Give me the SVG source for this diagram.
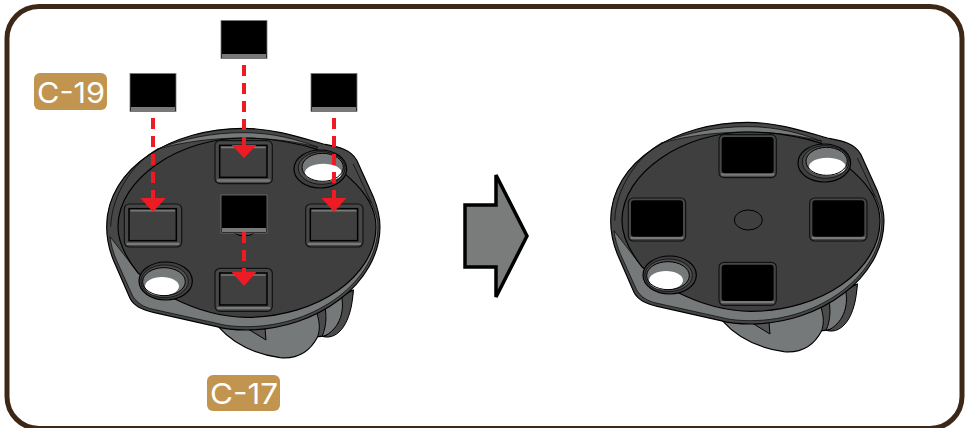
<svg xmlns="http://www.w3.org/2000/svg" xmlns:xlink="http://www.w3.org/1999/xlink" width="968" height="428" viewBox="0 0 968 428">
<style>
.badge{fill:#c1954f}
.lbl{font-family:"Inter","Liberation Sans",sans-serif;font-weight:400;font-size:29px;fill:#fff}
.blk{fill:#000;stroke:#777;stroke-width:.8}
.strip{fill:#777a79}
.flow{stroke:#ed1c24;stroke-width:4;stroke-dasharray:11 7;fill:none}
.head{fill:#ed1c24}
.ol{stroke:#000;stroke-width:3.5;stroke-linejoin:round}
.pad{fill:#474747;stroke:#111;stroke-width:3.5}
.padi{fill:#404040;stroke:#000;stroke-width:4.5}
</style>
<defs>
<g id="body">
<path class="ol" fill="#76797a" d="M385 650C420 690 480 730 570 743C630 748 665 715 683 680C720 682 775 650 790 540L600 600Z"/>
<path fill="#4a4a4a" stroke="#000" stroke-width="3" d="M681 610C690 640 690 660 683 680L697 678C708 650 710 625 706 595Z"/>
<path fill="#4a4a4a" stroke="#000" stroke-width="3" d="M700 680C745 690 785 640 790 540L755 560C765 610 745 660 700 680Z"/>
<path fill="#555" stroke="#000" stroke-width="3" d="M474 657L528 690L525 654Z"/>
<path class="ol" fill="#474747" d="M50 350C50 170 250 55 460 55C550 55 630 82 700 102C740 110 780 115 800 150L850 260C862 290 870 320 870 350C870 520 680 660 470 660C440 660 400 656 380 650L190 607C155 600 130 585 120 565L70 450C58 420 50 385 50 350Z"/>
<path fill="#76797a" stroke="#000" stroke-width="2" d="M845 280C858 310 864 330 864 350C864 510 680 650 470 650C440 650 405 647 385 641L190 598C160 592 140 578 128 558L80 452C70 430 62 400 60 380L145 490L780 205Z"/>
<path fill="#76797a" stroke="#000" stroke-width="2" d="M200 118C280 85 370 68 460 68C550 68 620 88 684 112C620 95 540 84 460 84C370 84 280 95 200 118Z"/>
<path fill="none" stroke="#000" stroke-width="2" d="M790 162L845 280M62 350C66 250 130 160 200 118"/>
<path class="ol" fill="#3f3f3f" d="M84 350C84 205 270 84 460 84C560 84 630 102 682 118L780 205C830 250 858 300 858 350C858 500 680 622 470 622C400 622 320 600 250 565L145 490C105 440 84 395 84 350Z"/>
<ellipse cx="463" cy="348" rx="42" ry="30" fill="#3f3f3f" stroke="#000" stroke-width="3"/>
<ellipse cx="691" cy="177" rx="79" ry="57" fill="#3f3f3f" stroke="#000" stroke-width="3.5"/>
<ellipse cx="695" cy="174" rx="70" ry="49" fill="#4f4f4f" stroke="#000" stroke-width="2"/>
<ellipse cx="698" cy="172" rx="62" ry="42" fill="#76797a"/>
<ellipse cx="700" cy="188" rx="55" ry="27" fill="#fff"/>
<ellipse cx="698" cy="172" rx="62" ry="42" fill="none" stroke="#000" stroke-width="3"/>
<ellipse cx="227" cy="513" rx="80" ry="57" fill="#3f3f3f" stroke="#000" stroke-width="3.5"/>
<ellipse cx="224" cy="514" rx="71" ry="49" fill="#4f4f4f" stroke="#000" stroke-width="2"/>
<ellipse cx="222" cy="515" rx="64" ry="42" fill="#76797a"/>
<ellipse cx="216" cy="529" rx="51" ry="28" fill="#fff"/>
<ellipse cx="222" cy="515" rx="64" ry="42" fill="none" stroke="#000" stroke-width="3"/>
</g>
<g id="padOpen">
<rect class="pad" x="0" y="0" width="172" height="129" rx="15"/>
<rect x="6" y="116" width="160" height="7" fill="#777a79" rx="3"/>
<rect class="padi" x="14" y="14" width="142" height="96"/>
<path stroke="#777a79" stroke-width="5" d="M18 20H152" fill="none"/>
</g>
<g id="padFull">
<rect class="pad" x="0" y="0" width="172" height="129" rx="15"/>
<rect x="6" y="116" width="160" height="7" fill="#777a79" rx="3"/>
<rect x="8" y="7" width="156" height="109" rx="9" fill="#000"/>
</g>
</defs>
<g id="frame"><rect x="7" y="6.500" width="955" height="422" rx="32" fill="#fff" stroke="#3d2817" stroke-width="5"/></g>
<g id="left-part" transform="translate(90 110) scale(.3333)">
<use xlink:href="#body" href="#body"/>
<use href="#padOpen" xlink:href="#padOpen" x="375" y="92"/>
<use href="#padOpen" xlink:href="#padOpen" x="103" y="282"/>
<use href="#padOpen" xlink:href="#padOpen" x="647" y="282"/>
<use href="#padOpen" xlink:href="#padOpen" x="375" y="475"/>
</g>
<g id="right-part" transform="translate(594 104) scale(.3333)">
<use href="#body" xlink:href="#body"/>
<use href="#padFull" xlink:href="#padFull" x="375" y="92"/>
<use href="#padFull" xlink:href="#padFull" x="103" y="282"/>
<use href="#padFull" xlink:href="#padFull" x="647" y="282"/>
<use href="#padFull" xlink:href="#padFull" x="375" y="475"/>
</g>
<g id="block-left"><rect class="blk" x="130" y="73.500" width="46" height="38"/><rect class="strip" x="131" y="107" width="44" height="4"/></g>
<g id="block-top"><rect class="blk" x="221" y="20.500" width="46" height="38"/><rect class="strip" x="222" y="54" width="44" height="4"/></g>
<g id="block-right"><rect class="blk" x="311" y="73.500" width="46" height="38"/><rect class="strip" x="312" y="107" width="44" height="4"/></g>
<g id="block-center"><rect class="blk" x="221" y="195" width="46" height="38"/><rect class="strip" x="222" y="228" width="44" height="4"/></g>
<g id="connectors">
<path class="flow" d="M153 118V200"/><path class="head" d="M140.300 198H165.700L153 212Z"/>
<path class="flow" d="M244 65V147"/><path class="head" d="M231.500 145H256.500L244 158Z"/>
<path class="flow" d="M334 118V200"/><path class="head" d="M321.500 198H346.500L334 212Z"/>
<path class="flow" d="M244 232V273"/><path class="head" d="M231.500 272H256.500L244 286Z"/>
</g>
<g id="big-arrow"><path d="M465 205H496V175L527 236L496 297V267H465Z" fill="#7a7c7b" stroke="#000" stroke-width="3.500" stroke-linejoin="miter"/></g>
<g id="badge-c19"><rect class="badge" x="34" y="73" width="73" height="37" rx="6"/><text class="lbl" x="37" y="102.500" textLength="68" lengthAdjust="spacingAndGlyphs">C-19</text></g>
<g id="badge-c17"><rect class="badge" x="207" y="375" width="73" height="36" rx="6"/><text class="lbl" x="210" y="404" textLength="68" lengthAdjust="spacingAndGlyphs">C-17</text></g>
</svg>
